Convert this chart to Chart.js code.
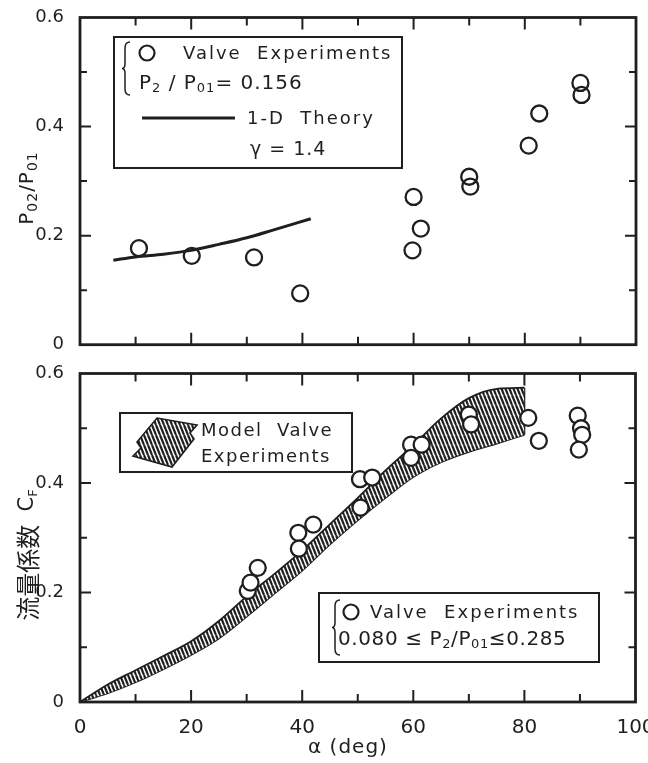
<!DOCTYPE html>
<html>
<head>
<meta charset="utf-8">
<script src="https://cdn.jsdelivr.net/npm/chart.js@4.4.1/dist/chart.umd.min.js"></script>
<style>
  html, body { margin: 0; padding: 0; background: #fff; }
  #wrap { position: relative; width: 648px; height: 763px; }
  .pane { position: absolute; left: 0; width: 648px; }
</style>
</head>
<body>
<div id="wrap">
  <div class="pane" style="top:0;height:355px"><canvas id="cTop"></canvas></div>
  <div class="pane" style="top:355px;height:408px"><canvas id="cBot"></canvas></div>
</div>
<script>
// ---- Upper panel: stagnation pressure ratio P02/P01 vs valve angle ----
const alphaValve = [10.6, 20.1, 31.3, 39.6, 59.8, 60.0, 61.3, 70.0, 70.2, 80.7, 82.6, 90.0, 90.2];
const p02Valve   = [0.177, 0.163, 0.160, 0.094, 0.173, 0.271, 0.213, 0.308, 0.290, 0.365, 0.424, 0.480, 0.458];

// 1-D theory curve, gamma = 1.4
const alphaTheory = [6, 10, 15, 20, 25, 30, 35, 41.5];
const p02Theory   = [0.155, 0.161, 0.166, 0.173, 0.184, 0.196, 0.211, 0.231];

// ---- Lower panel: flow coefficient CF vs valve angle ----
const alphaFlow = [30.2, 30.7, 32.0, 39.3, 39.4, 42.0, 50.4, 50.5, 52.6, 59.6, 59.6, 61.5, 70.0, 70.4, 80.7, 82.6, 89.6, 90.2, 90.4, 89.8];
const cfFlow    = [0.203, 0.218, 0.245, 0.309, 0.280, 0.324, 0.407, 0.355, 0.410, 0.470, 0.446, 0.470, 0.525, 0.507, 0.519, 0.477, 0.523, 0.500, 0.488, 0.461];

// Model valve experiments: band limits
const bandAlpha = [0, 5, 10, 15, 20, 25, 30, 35, 40, 45, 50, 55, 60, 65, 70, 75, 80];
const bandUpper = [0, 0.032, 0.058, 0.084, 0.111, 0.148, 0.193, 0.234, 0.277, 0.325, 0.373, 0.423, 0.469, 0.518, 0.555, 0.572, 0.574];
const bandLower = [0, 0.016, 0.036, 0.060, 0.086, 0.116, 0.156, 0.198, 0.240, 0.288, 0.332, 0.373, 0.411, 0.438, 0.457, 0.472, 0.488];

// Axis ticks
const xTickValues = [0, 10, 20, 30, 40, 50, 60, 70, 80, 90, 100];
const xTickLabels = ['0', '', '20', '', '40', '', '60', '', '80', '', '100'];
const yTickValues = [0, 0.1, 0.2, 0.3, 0.4, 0.5, 0.6];
const yTickLabels = ['0', '', '0.2', '', '0.4', '', '0.6'];

const INK = '#1f1f1f';
const FONT = '"DejaVu Sans", sans-serif';
const CJK = '"Noto Sans CJK JP", "Noto Sans CJK SC", sans-serif';

const pts = (xs, ys) => xs.map((x, i) => ({ x: x, y: ys[i] }));

// --- text helpers (support subscripts) ---
function runWidth(ctx, parts) {
  let w = 0;
  for (const p of parts) { ctx.font = `${p.s}px ${p.f || FONT}`; w += ctx.measureText(p.t).width; }
  return w;
}
function drawRun(ctx, x, y, parts, align) {
  let cx = align === 'center' ? x - runWidth(ctx, parts) / 2 : x;
  for (const p of parts) {
    ctx.font = `${p.s}px ${p.f || FONT}`;
    ctx.fillText(p.t, cx, y + (p.dy || 0));
    cx += ctx.measureText(p.t).width;
  }
}
function brace(ctx, x, y0, y1) {
  const m = (y0 + y1) / 2, w = 8, c = x + w / 2 - 1;
  ctx.beginPath();
  ctx.moveTo(x + w, y0);
  ctx.quadraticCurveTo(c, y0, c, y0 + 6);
  ctx.lineTo(c, m - 5);
  ctx.quadraticCurveTo(c, m, x, m);
  ctx.quadraticCurveTo(c, m, c, m + 5);
  ctx.lineTo(c, y1 - 6);
  ctx.quadraticCurveTo(c, y1, x + w, y1);
  ctx.stroke();
}
function ring(ctx, x, y, r) {
  ctx.beginPath(); ctx.arc(x, y, r, 0, Math.PI * 2); ctx.stroke();
}

// hatch fill for the model valve band
function makeHatch(ctx) {
  const c = document.createElement('canvas');
  c.width = 4; c.height = 10;
  const g = c.getContext('2d');
  g.fillStyle = '#fff'; g.fillRect(0, 0, 4, 10);
  g.strokeStyle = INK; g.lineWidth = 2.2;
  for (const dx of [-4, 0, 4]) {
    g.beginPath(); g.moveTo(dx, 0); g.lineTo(dx + 4, 10); g.stroke();
  }
  return ctx.createPattern(c, 'repeat');
}

// frame and inward tick marks on all four sides
const framePlugin = {
  id: 'frame',
  afterDatasetsDraw(chart) {
    const { ctx, chartArea: a, scales: { x, y } } = chart;
    ctx.save();
    ctx.strokeStyle = INK;
    ctx.lineCap = 'butt';
    ctx.lineWidth = 2;
    xTickValues.slice(1, -1).forEach(v => {
      const px = x.getPixelForValue(v);
      const len = v % 20 === 0 ? 12 : 8;
      ctx.beginPath();
      ctx.moveTo(px, a.bottom); ctx.lineTo(px, a.bottom - len);
      ctx.moveTo(px, a.top); ctx.lineTo(px, a.top + len);
      ctx.stroke();
    });
    yTickValues.slice(1, -1).forEach((v, i) => {
      const py = y.getPixelForValue(v);
      const len = yTickLabels[i + 1] ? 11 : 7;
      ctx.beginPath();
      ctx.moveTo(a.left, py); ctx.lineTo(a.left + len, py);
      ctx.moveTo(a.right, py); ctx.lineTo(a.right - len, py);
      ctx.stroke();
    });
    ctx.lineWidth = 2.8;
    ctx.strokeRect(a.left, a.top, a.right - a.left, a.bottom - a.top);
    ctx.restore();
  }
};

function yAxis() {
  return {
    type: 'linear', min: 0, max: 0.6,
    afterBuildTicks: s => { s.ticks = yTickValues.map(v => ({ value: v })); },
    ticks: {
      autoSkip: false, padding: 8, color: INK,
      font: { size: 18, family: FONT },
      callback: (v, i) => yTickLabels[i]
    },
    grid: { display: false }, border: { display: false },
    afterFit: s => { s.width = 80; s.paddingTop = 0; s.paddingBottom = 0; }
  };
}

// ---------------- upper chart ----------------
const topNotes = {
  id: 'topNotes',
  afterDraw(chart) {
    const ctx = chart.ctx;
    ctx.save();
    ctx.fillStyle = INK; ctx.strokeStyle = INK;
    ctx.textBaseline = 'middle';
    // legend box
    ctx.lineWidth = 2;
    ctx.strokeRect(114, 37, 288, 131);
    ctx.lineWidth = 1.5;
    brace(ctx, 122, 42, 95);
    ctx.lineWidth = 2.2;
    ring(ctx, 147, 53, 7.5);
    ctx.letterSpacing = '2px';
    drawRun(ctx, 183, 54, [{ t: 'Valve  Experiments', s: 18 }]);
    ctx.letterSpacing = '1px';
    drawRun(ctx, 139, 84, [
      { t: 'P', s: 20 }, { t: '2', s: 13, dy: 5 }, { t: ' / ', s: 20 },
      { t: 'P', s: 20 }, { t: '01', s: 13, dy: 5 }, { t: '= 0.156', s: 20 }
    ]);
    ctx.lineWidth = 3.2;
    ctx.beginPath(); ctx.moveTo(142, 118); ctx.lineTo(235, 118); ctx.stroke();
    ctx.letterSpacing = '2px';
    drawRun(ctx, 247, 119, [{ t: '1-D  Theory', s: 18 }]);
    ctx.letterSpacing = '1px';
    drawRun(ctx, 250, 150, [{ t: 'γ = 1.4', s: 19 }]);
    // y-axis title
    ctx.letterSpacing = '1px';
    ctx.translate(28, 188);
    ctx.rotate(-Math.PI / 2);
    drawRun(ctx, 0, 0, [
      { t: 'P', s: 20 }, { t: '02', s: 14, dy: 5 }, { t: '/', s: 20 },
      { t: 'P', s: 20 }, { t: '01', s: 14, dy: 5 }
    ], 'center');
    ctx.restore();
  }
};

new Chart(document.getElementById('cTop'), {
  type: 'line',
  data: {
    datasets: [
      {
        data: pts(alphaValve, p02Valve), showLine: false,
        pointRadius: 8, pointBorderWidth: 2.3, pointBorderColor: INK,
        pointBackgroundColor: 'rgba(255,255,255,0)'
      },
      {
        data: pts(alphaTheory, p02Theory), borderColor: INK, borderWidth: 3,
        pointRadius: 0, cubicInterpolationMode: 'monotone', fill: false
      }
    ]
  },
  options: {
    responsive: true, maintainAspectRatio: false, animation: false, events: [],
    layout: { padding: { top: 17.5, right: 12, bottom: 10, left: 0 } },
    plugins: { legend: { display: false }, tooltip: { enabled: false } },
    scales: {
      x: { type: 'linear', min: 0, max: 100, display: false },
      y: yAxis()
    }
  },
  plugins: [framePlugin, topNotes]
});

// ---------------- lower chart ----------------
const botCanvas = document.getElementById('cBot');
const hatch = makeHatch(botCanvas.getContext('2d'));

const botNotes = {
  id: 'botNotes',
  afterDraw(chart) {
    const ctx = chart.ctx;
    ctx.save();
    ctx.fillStyle = INK; ctx.strokeStyle = INK;
    ctx.textBaseline = 'middle';
    // model valve legend
    ctx.lineWidth = 2;
    ctx.fillStyle = '#fff';
    ctx.fillRect(120, 58, 232, 59);
    ctx.strokeRect(120, 58, 232, 59);
    ctx.beginPath();
    ctx.moveTo(133, 101); ctx.lineTo(141, 93); ctx.lineTo(137, 87); ctx.lineTo(157, 63);
    ctx.lineTo(197, 70); ctx.lineTo(190, 78); ctx.lineTo(194, 84); ctx.lineTo(172, 112);
    ctx.closePath();
    ctx.fillStyle = hatch; ctx.fill();
    ctx.lineWidth = 1.6; ctx.stroke();
    ctx.fillStyle = INK;
    ctx.letterSpacing = '1.5px';
    drawRun(ctx, 201, 76, [{ t: 'Model  Valve', s: 18 }]);
    drawRun(ctx, 201, 102, [{ t: 'Experiments', s: 18 }]);
    // valve experiments legend
    ctx.lineWidth = 2;
    ctx.fillStyle = '#fff';
    ctx.fillRect(319, 238, 280, 69);
    ctx.strokeRect(319, 238, 280, 69);
    ctx.fillStyle = INK;
    ctx.lineWidth = 1.5;
    brace(ctx, 332, 245, 300);
    ctx.lineWidth = 2.2;
    ring(ctx, 351, 257, 7.5);
    ctx.letterSpacing = '2px';
    drawRun(ctx, 370, 258, [{ t: 'Valve  Experiments', s: 18 }]);
    ctx.letterSpacing = '0.6px';
    drawRun(ctx, 338, 285, [
      { t: '0.080 ≤ P', s: 20 }, { t: '2', s: 13, dy: 5 }, { t: '/', s: 20 },
      { t: 'P', s: 20 }, { t: '01', s: 13, dy: 5 }, { t: '≤0.285', s: 20 }
    ]);
    // axis titles
    ctx.letterSpacing = '1px';
    drawRun(ctx, 348, 393, [{ t: 'α (deg)', s: 20 }], 'center');
    ctx.translate(28, 200);
    ctx.rotate(-Math.PI / 2);
    ctx.letterSpacing = '0px';
    drawRun(ctx, 0, 0, [
      { t: '流量係数', s: 24, f: CJK }, { t: '  C', s: 21 }, { t: 'F', s: 13, dy: 6 }
    ], 'center');
    ctx.restore();
  }
};

const bandEnd = bandAlpha.length - 1;

new Chart(botCanvas, {
  type: 'line',
  data: {
    datasets: [
      {
        data: pts(alphaFlow, cfFlow), showLine: false,
        pointRadius: 8, pointBorderWidth: 2.3, pointBorderColor: INK,
        pointBackgroundColor: '#fff'
      },
      {
        data: pts(bandAlpha, bandUpper), borderColor: INK, borderWidth: 1.8,
        pointRadius: 0, cubicInterpolationMode: 'monotone',
        fill: '+1', backgroundColor: hatch
      },
      {
        data: pts(bandAlpha, bandLower), borderColor: INK, borderWidth: 1.8,
        pointRadius: 0, cubicInterpolationMode: 'monotone', fill: false
      },
      {
        data: [{ x: bandAlpha[bandEnd], y: bandLower[bandEnd] }, { x: bandAlpha[bandEnd], y: bandUpper[bandEnd] }],
        borderColor: INK, borderWidth: 1.8, pointRadius: 0, fill: false
      }
    ]
  },
  options: {
    responsive: true, maintainAspectRatio: false, animation: false, events: [],
    layout: { padding: { top: 18.5, right: 12.5, bottom: 0, left: 0 } },
    plugins: { legend: { display: false }, tooltip: { enabled: false } },
    scales: {
      x: {
        type: 'linear', min: 0, max: 100,
        afterBuildTicks: s => { s.ticks = xTickValues.map(v => ({ value: v })); },
        ticks: {
          autoSkip: false, maxRotation: 0, padding: 6, color: INK,
          font: { size: 20, family: FONT },
          callback: (v, i) => xTickLabels[i]
        },
        grid: { display: false }, border: { display: false },
        afterFit: s => { s.height = 61; s.paddingLeft = 0; s.paddingRight = 0; }
      },
      y: yAxis()
    }
  },
  plugins: [framePlugin, botNotes]
});
</script>
</body>
</html>
